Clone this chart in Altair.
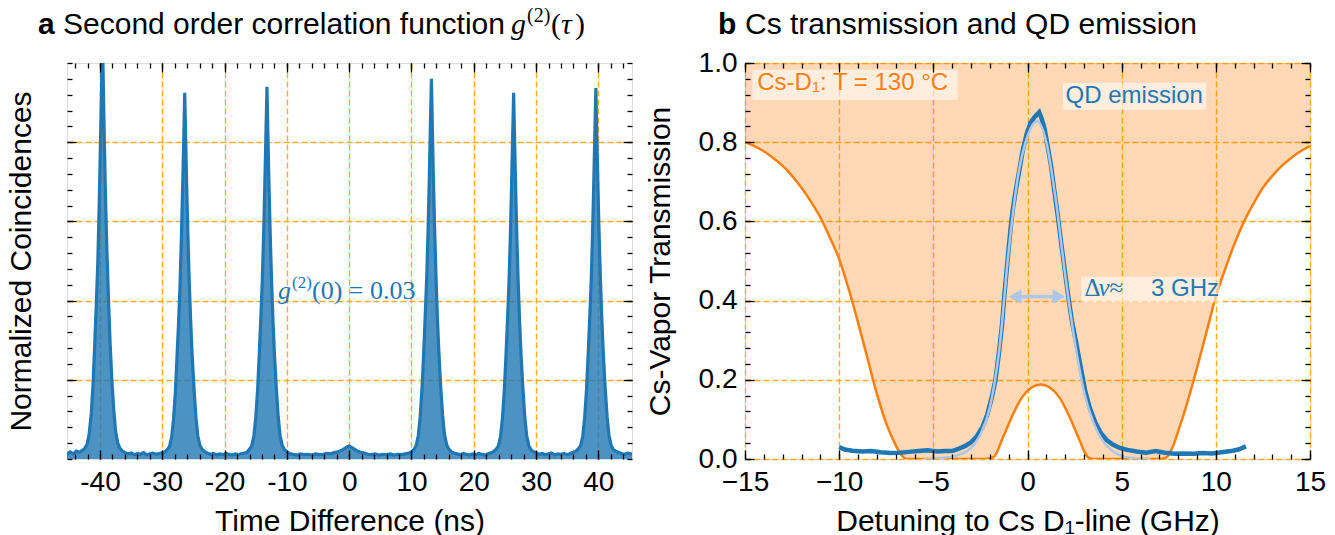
import altair as alt
import pandas as pd

BLUE = "#1f77b4"
LIGHT = "#aec7e8"
ORANGE = "#ff7f0e"
GRID = "#ffa500"
SANS = "Liberation Sans"
SERIF = "Liberation Serif"

# ---------------- panel a : g2 histogram (time in ns, normalized coincidences) -------------
tau_s0 = [-45.3, -44.8, -44.3, -43.8, -43.3]
val_s0 = [0.012, 0.018, 0.013, 0.020, 0.017]
tau_p1 = [-42.9, -42.5, -42.1, -41.75, -41.4, -41.1, -40.85, -40.6, -40.35, -40.15, -39.95, -39.78, -39.6,
          -39.45, -39.3, -39.12, -38.9, -38.65, -38.4, -38.1, -37.8, -37.5, -37.15, -36.8, -36.4]
val_p1 = [0.021, 0.026, 0.036, 0.062, 0.115, 0.195, 0.29, 0.39, 0.50, 0.63, 0.78, 0.92, 1.06,
          0.93, 0.80, 0.66, 0.53, 0.41, 0.30, 0.20, 0.125, 0.07, 0.04, 0.027, 0.02]
tau_s1 = [-36.0, -35.5, -35.0, -34.5, -34.0, -33.5, -33.0, -32.5, -32.0, -31.5, -31.0, -30.5, -30.0]
val_s1 = [0.016, 0.013, 0.015, 0.011, 0.014, 0.012, 0.016, 0.010, 0.013, 0.015, 0.012, 0.014, 0.016]
tau_p2 = [-29.6, -29.2, -28.85, -28.5, -28.2, -27.9, -27.65, -27.4, -27.15, -26.95, -26.75, -26.58, -26.4,
          -26.25, -26.1, -25.9, -25.68, -25.45, -25.2, -24.9, -24.6, -24.3, -23.95, -23.6, -23.2]
val_p2 = [0.018, 0.024, 0.031, 0.055, 0.10, 0.17, 0.255, 0.34, 0.44, 0.55, 0.68, 0.79, 0.925,
          0.81, 0.70, 0.57, 0.45, 0.35, 0.26, 0.175, 0.105, 0.058, 0.034, 0.024, 0.019]
tau_s2 = [-22.8, -22.3, -21.8, -21.3, -20.8, -20.3, -19.8, -19.3, -18.8, -18.3, -17.8, -17.3, -16.8]
val_s2 = [0.015, 0.012, 0.014, 0.010, 0.013, 0.011, 0.014, 0.012, 0.010, 0.013, 0.011, 0.014, 0.015]
tau_p3 = [-16.4, -16.0, -15.65, -15.3, -15.0, -14.7, -14.45, -14.2, -13.95, -13.75, -13.55, -13.38, -13.2,
          -13.05, -12.9, -12.7, -12.48, -12.25, -12.0, -11.7, -11.4, -11.1, -10.75, -10.4, -10.0]
val_p3 = [0.017, 0.025, 0.033, 0.058, 0.105, 0.175, 0.26, 0.35, 0.45, 0.56, 0.69, 0.81, 0.94,
          0.82, 0.71, 0.58, 0.46, 0.355, 0.265, 0.18, 0.108, 0.06, 0.035, 0.024, 0.018]
tau_s3 = [-9.6, -9.0, -8.4, -7.8, -7.2, -6.6, -6.0, -5.4, -4.8, -4.2, -3.6, -3.0, -2.4, -1.8, -1.2, -0.7,
          -0.3, 0.0, 0.3, 0.7, 1.2, 1.8, 2.4, 3.0, 3.6, 4.2, 4.8, 5.4, 6.0, 6.6, 7.2, 7.8, 8.4, 9.0, 9.6]
val_s3 = [0.014, 0.012, 0.010, 0.013, 0.011, 0.012, 0.010, 0.013, 0.011, 0.012, 0.014, 0.013, 0.016, 0.018,
          0.022, 0.027, 0.031, 0.033, 0.030, 0.026, 0.021, 0.017, 0.015, 0.012, 0.011, 0.013, 0.010, 0.012,
          0.011, 0.013, 0.010, 0.012, 0.011, 0.013, 0.015]
tau_p4 = [10.0, 10.4, 10.75, 11.1, 11.4, 11.7, 11.95, 12.2, 12.45, 12.65, 12.85, 13.02, 13.2,
          13.35, 13.5, 13.7, 13.92, 14.15, 14.4, 14.7, 15.0, 15.3, 15.65, 16.0, 16.4]
val_p4 = [0.018, 0.024, 0.034, 0.06, 0.107, 0.18, 0.265, 0.36, 0.46, 0.57, 0.70, 0.83, 0.96,
          0.84, 0.72, 0.59, 0.47, 0.36, 0.27, 0.18, 0.11, 0.062, 0.036, 0.025, 0.018]
tau_s4 = [16.8, 17.3, 17.8, 18.3, 18.8, 19.3, 19.8, 20.3, 20.8, 21.3, 21.8, 22.3, 22.8]
val_s4 = [0.015, 0.013, 0.011, 0.014, 0.012, 0.010, 0.013, 0.011, 0.014, 0.012, 0.010, 0.013, 0.016]
tau_p5 = [23.2, 23.6, 23.95, 24.3, 24.6, 24.9, 25.15, 25.4, 25.65, 25.85, 26.05, 26.22, 26.4,
          26.55, 26.7, 26.9, 27.12, 27.35, 27.6, 27.9, 28.2, 28.5, 28.85, 29.2, 29.6]
val_p5 = [0.019, 0.025, 0.033, 0.057, 0.103, 0.172, 0.255, 0.345, 0.445, 0.55, 0.68, 0.80, 0.925,
          0.81, 0.70, 0.57, 0.45, 0.35, 0.26, 0.175, 0.104, 0.058, 0.033, 0.023, 0.018]
tau_s5 = [30.0, 30.5, 31.0, 31.5, 32.0, 32.5, 33.0, 33.5, 34.0, 34.5, 35.0, 35.5, 36.0]
val_s5 = [0.016, 0.012, 0.014, 0.011, 0.013, 0.015, 0.010, 0.013, 0.012, 0.014, 0.011, 0.014, 0.017]
tau_p6 = [36.4, 36.8, 37.15, 37.5, 37.8, 38.1, 38.35, 38.6, 38.85, 39.05, 39.25, 39.42, 39.6,
          39.75, 39.9, 40.1, 40.32, 40.55, 40.8, 41.1, 41.4, 41.7, 42.05, 42.4, 42.8]
val_p6 = [0.02, 0.026, 0.034, 0.058, 0.105, 0.175, 0.26, 0.35, 0.45, 0.56, 0.69, 0.81, 0.937,
          0.82, 0.71, 0.58, 0.46, 0.355, 0.265, 0.178, 0.108, 0.06, 0.035, 0.024, 0.02]
tau_s6 = [43.2, 43.7, 44.2, 44.7, 45.2, 45.4]
val_s6 = [0.017, 0.014, 0.012, 0.015, 0.013, 0.014]

tau_ns = (tau_s0 + tau_p1 + tau_s1 + tau_p2 + tau_s2 + tau_p3 + tau_s3 + tau_p4 + tau_s4
          + tau_p5 + tau_s5 + tau_p6 + tau_s6)
coinc = (val_s0 + val_p1 + val_s1 + val_p2 + val_s2 + val_p3 + val_s3 + val_p4 + val_s4
         + val_p5 + val_s5 + val_p6 + val_s6)

# ---------------- panel b : Cs transmission + QD emission -------------
cs_detuning = [-15, -14.5, -14, -13.5, -13, -12.5, -12, -11.5, -11, -10.5, -10, -9.5, -9, -8.5, -8, -7.5,
               -7, -6.7, -6.4, -2.3, -1.8, -1.3, -0.8, -0.3, 0.2, 0.7, 1.2, 1.7, 2.2, 2.7, 3.2, 3.5,
               7.1, 7.4, 7.7, 8.0, 8.5, 9.0, 9.5, 10.0, 10.5, 11.0, 11.5, 12.0, 12.5, 13.0, 13.5, 14.0,
               14.5, 15.0]
cs_trans = [0.80, 0.79, 0.777, 0.76, 0.74, 0.715, 0.685, 0.65, 0.61, 0.56, 0.505, 0.43, 0.345, 0.255,
            0.165, 0.09, 0.035, 0.01, 0.0, 0.0, 0.005, 0.055, 0.11, 0.155, 0.18, 0.188, 0.18, 0.155,
            0.11, 0.055, 0.005, 0.0, 0.0, 0.005, 0.03, 0.07, 0.145, 0.23, 0.32, 0.41, 0.48, 0.545, 0.60,
            0.645, 0.685, 0.715, 0.74, 0.76, 0.777, 0.79]

qd_detuning = [-10.0, -9.7, -9.3, -8.8, -8.3, -7.8, -7.3, -6.8, -6.3, -5.8, -5.3, -4.8, -4.4, -4.0, -3.6,
               -3.3, -3.0, -2.7, -2.4, -2.15, -1.9, -1.7, -1.5, -1.35, -1.22, -1.1, -0.99, -0.88, -0.78,
               -0.6, -0.43, -0.25, -0.05, 0.15, 0.35, 0.5, 0.62, 0.75, 0.9, 1.05, 1.25, 1.44, 1.62, 1.79,
               1.97, 2.14, 2.35, 2.6, 2.85, 3.05, 3.3, 3.6, 3.9, 4.2, 4.55, 4.9, 5.3, 5.8, 6.3, 6.8, 7.3,
               7.8, 8.3, 8.8, 9.3, 9.8, 10.3, 10.8, 11.2, 11.6]
qd_signal = [0.03, 0.024, 0.021, 0.019, 0.02, 0.017, 0.015, 0.016, 0.018, 0.02, 0.022, 0.019, 0.02, 0.02,
             0.027, 0.033, 0.042, 0.057, 0.08, 0.11, 0.155, 0.2, 0.275, 0.34, 0.419, 0.48, 0.537, 0.59,
             0.63, 0.685, 0.73, 0.78, 0.82, 0.848, 0.862, 0.87, 0.876, 0.86, 0.835, 0.795, 0.74, 0.672,
             0.61, 0.545, 0.48, 0.419, 0.35, 0.29, 0.225, 0.175, 0.13, 0.092, 0.065, 0.048, 0.036, 0.028,
             0.023, 0.019, 0.016, 0.02, 0.016, 0.013, 0.014, 0.013, 0.015, 0.014, 0.017, 0.02, 0.024, 0.032]

fit_detuning = [-5.5, -5, -4.5, -4, -3.5, -3, -2.5, -2, -1.5, -1, -0.5, 0, 0.5, 1, 1.5, 2, 2.5, 3, 3.5,
                4, 4.5, 5, 5.5, 6, 6.5]
fit_signal = [0.0, 0.001, 0.003, 0.006, 0.013, 0.028, 0.062, 0.13, 0.275, 0.525, 0.715, 0.815, 0.853,
              0.80, 0.655, 0.465, 0.30, 0.17, 0.092, 0.045, 0.02, 0.008, 0.003, 0.001, 0.0]

# tick positions
a_x_major = [-40, -30, -20, -10, 0, 10, 20, 30, 40]
a_x_minor = list(range(-44, 45, 2))
a_y_major = [0.2, 0.4, 0.6, 0.8]
y_minor = [round(0.04 * i, 2) for i in range(0, 26)]
b_x_major = [-15, -10, -5, 0, 5, 10, 15]
b_x_minor = list(range(-15, 16))
b_y_major = [0.0, 0.2, 0.4, 0.6, 0.8, 1.0]

df_a = pd.DataFrame({"tau": tau_ns, "coinc": coinc})
df_cs = pd.DataFrame({"nu": cs_detuning, "T": cs_trans})
df_qd = pd.DataFrame({"nu": qd_detuning, "s": qd_signal})
df_fit = pd.DataFrame({"nu": fit_detuning, "s": fit_signal})
one = pd.DataFrame({"k": [0]})

W, H = 565, 396


def main_axis(orient, values, title, labels=True, fmt=None, label_expr=None, title_pad=10, label_pad=9):
    kw = dict(orient=orient, values=values, title=title, grid=True, gridColor=GRID, gridDash=[6, 3],
              gridWidth=1.4, gridOpacity=0.9, ticks=False, domain=False, labels=labels,
              labelFontSize=28, labelFont=SANS, labelColor="black", labelFlush=False, labelOverlap=False,
              titleFont=SANS, titleFontSize=30, titleFontWeight="normal", titleColor="black",
              titlePadding=title_pad, labelPadding=label_pad, zindex=0)
    if fmt:
        kw["format"] = fmt
    if label_expr:
        kw["labelExpr"] = label_expr
    return alt.Axis(**kw)


def tick_axis(orient, values, size):
    return alt.Axis(orient=orient, values=values, title=None, grid=False, labels=False, domain=False,
                    ticks=True, tickSize={"expr": str(-size)}, tickColor="black", tickWidth=1.3, zindex=1)


def txt(text, x, y, size, color, font=SANS, style="normal", weight="normal", dx=0, dy=0, px=False):
    m = alt.Chart(one).mark_text(text=text, fontSize=size, color=color, font=font, fontStyle=style,
                                 fontWeight=weight, dx=dx, dy=dy, align="left", baseline="alphabetic")
    if px:
        return m.encode(x=alt.value(x), y=alt.value(y))
    return m.encode(x=alt.XDatum(x, axis=None), y=alt.YDatum(y, axis=None))


def box(x1, x2, y1, y2):
    return alt.Chart(one).mark_rect(fill="white", opacity=0.55).encode(
        x=alt.XDatum(x1, axis=None), x2=alt.X2Datum(x2), y=alt.YDatum(y1, axis=None), y2=alt.Y2Datum(y2))


# ---------------- panel a ----------------
xa = alt.Scale(domain=[-45.3, 45.4], nice=False, zero=False)
ya = alt.Scale(domain=[0, 1], nice=False, zero=False)

area_a = alt.Chart(df_a).mark_area(color=BLUE, opacity=0.8, clip=True).encode(
    x=alt.X("tau:Q", scale=xa, axis=main_axis("bottom", a_x_major, "Time Difference (ns)",
                                              label_expr="'' + datum.value", title_pad=10)),
    y=alt.Y("coinc:Q", scale=ya, axis=main_axis("left", a_y_major, "Normalized Coincidences",
                                                labels=False, title_pad=31)))
line_a = alt.Chart(df_a).mark_line(color=BLUE, strokeWidth=3.2, clip=True).encode(
    x=alt.X("tau:Q", scale=xa, axis=tick_axis("bottom", a_x_major, 9)),
    y=alt.Y("coinc:Q", scale=ya, axis=tick_axis("left", a_y_major, 9)))


def ghost(df, xf, yf, xs, ys, xo, xv, yo, yv, size):
    return alt.Chart(df).mark_line(opacity=0, clip=True).encode(
        x=alt.X(xf, scale=xs, axis=tick_axis(xo, xv, size)),
        y=alt.Y(yf, scale=ys, axis=tick_axis(yo, yv, size)))


g_a1 = ghost(df_a, "tau:Q", "coinc:Q", xa, ya, "top", a_x_major, "right", a_y_major, 9)
g_a2 = ghost(df_a, "tau:Q", "coinc:Q", xa, ya, "bottom", a_x_minor, "left", y_minor, 5)
g_a3 = ghost(df_a, "tau:Q", "coinc:Q", xa, ya, "top", a_x_minor, "right", y_minor, 5)

ann_a = [
    txt("g", -11.43, 0.405, 26, BLUE, font=SERIF, style="italic"),
    txt("(2)", -11.43, 0.405, 17, BLUE, font=SERIF, dx=14, dy=-11),
    txt("(0) = 0.03", -11.43, 0.405, 26, BLUE, font=SERIF, dx=34),
]
TY = -29
title_a = [
    txt("a", -29, TY, 30, "black", weight="bold", px=True),
    txt("Second order correlation function", -4, TY, 30, "black", px=True),
    txt("g", 444, TY, 30, "black", font=SERIF, style="italic", px=True),
    txt("(2)", 460, TY - 12, 20, "black", font=SERIF, px=True),
    txt("(", 484, TY, 30, "black", font=SERIF, px=True),
    txt("τ", 494, TY, 30, "black", font=SERIF, style="italic", px=True),
    txt(")", 508, TY, 30, "black", font=SERIF, px=True),
]

panel_a = alt.layer(area_a, line_a, g_a1, g_a2, g_a3, *ann_a, *title_a).resolve_axis(
    x="independent", y="independent").properties(width=W, height=H)

# ---------------- panel b ----------------
xb = alt.Scale(domain=[-15, 15], nice=False, zero=False)
yb = alt.Scale(domain=[0, 1], nice=False, zero=False)

area_b = alt.Chart(df_cs).mark_area(color=ORANGE, opacity=0.3, interpolate="monotone", clip=True).encode(
    x=alt.X("nu:Q", scale=xb, axis=main_axis("bottom", b_x_major, "Detuning to Cs D₁-line (GHz)",
                                             fmt="d", title_pad=10)),
    y=alt.Y("T:Q", scale=yb, axis=main_axis("left", b_y_major, "Cs-Vapor Transmission", fmt=".1f",
                                           title_pad=23, label_pad=8)),
    y2=alt.Y2Datum(1.0))
line_cs = alt.Chart(df_cs).mark_line(color=ORANGE, strokeWidth=2.5, interpolate="monotone", clip=True).encode(
    x=alt.X("nu:Q", scale=xb, axis=tick_axis("bottom", b_x_major, 9)),
    y=alt.Y("T:Q", scale=yb, axis=tick_axis("left", b_y_major, 9)))
line_qd = alt.Chart(df_qd).mark_line(color=BLUE, strokeWidth=4.5, clip=True).encode(
    x=alt.X("nu:Q", scale=xb, axis=tick_axis("top", b_x_major, 9)),
    y=alt.Y("s:Q", scale=yb, axis=tick_axis("right", b_y_major, 9)))
line_fit = alt.Chart(df_fit).mark_line(color=LIGHT, strokeWidth=2.5, interpolate="monotone", clip=True).encode(
    x=alt.X("nu:Q", scale=xb, axis=tick_axis("bottom", b_x_minor, 5)),
    y=alt.Y("s:Q", scale=yb, axis=tick_axis("left", y_minor, 5)))
g_b = ghost(df_fit, "nu:Q", "s:Q", xb, yb, "top", b_x_minor, "right", y_minor, 5)

arrow = [
    alt.Chart(one).mark_rule(color=LIGHT, strokeWidth=3.5).encode(
        x=alt.XDatum(-0.62, axis=None), x2=alt.X2Datum(1.63), y=alt.YDatum(0.41, axis=None)),
    alt.Chart(one).mark_point(shape="triangle-left", filled=True, size=220, color=LIGHT, opacity=1).encode(
        x=alt.XDatum(-0.66, axis=None), y=alt.YDatum(0.41, axis=None)),
    alt.Chart(one).mark_point(shape="triangle-right", filled=True, size=220, color=LIGHT, opacity=1).encode(
        x=alt.XDatum(1.67, axis=None), y=alt.YDatum(0.41, axis=None)),
]
ann_b = [
    box(-14.61, -3.70, 0.907, 0.983),
    txt("Cs-D₁: T = 130 °C", -14.35, 0.9326, 24, ORANGE),
    box(1.88, 9.49, 0.882, 0.950),
    txt("QD emission", 2.02, 0.899, 24, BLUE),
    box(2.85, 10.2, 0.395, 0.46),
    txt("Δ", 3.03, 0.4106, 25, BLUE, font=SERIF),
    txt("ν", 3.03, 0.4106, 25, BLUE, font=SERIF, style="italic", dx=14),
    txt("≈", 3.03, 0.4106, 25, BLUE, font=SERIF, dx=25),
    txt("3 GHz", 3.03, 0.4106, 24, BLUE, dx=66.5),
]
title_b = [
    txt("b", -27, TY, 30, "black", weight="bold", px=True),
    txt("Cs transmission and QD emission", 0, TY, 30, "black", px=True),
]

panel_b = alt.layer(area_b, line_cs, line_qd, line_fit, g_b, *arrow, *ann_b, *title_b).resolve_axis(
    x="independent", y="independent").properties(width=W, height=H)

chart = alt.hconcat(panel_a, panel_b, spacing=10).properties(
    padding={"left": -3, "top": -3, "right": 0, "bottom": 0}, background="white"
).configure_view(stroke="black", strokeWidth=2.5).configure(font=SANS)

chart.save("out.html", embed_options={"renderer": "svg", "actions": False})
